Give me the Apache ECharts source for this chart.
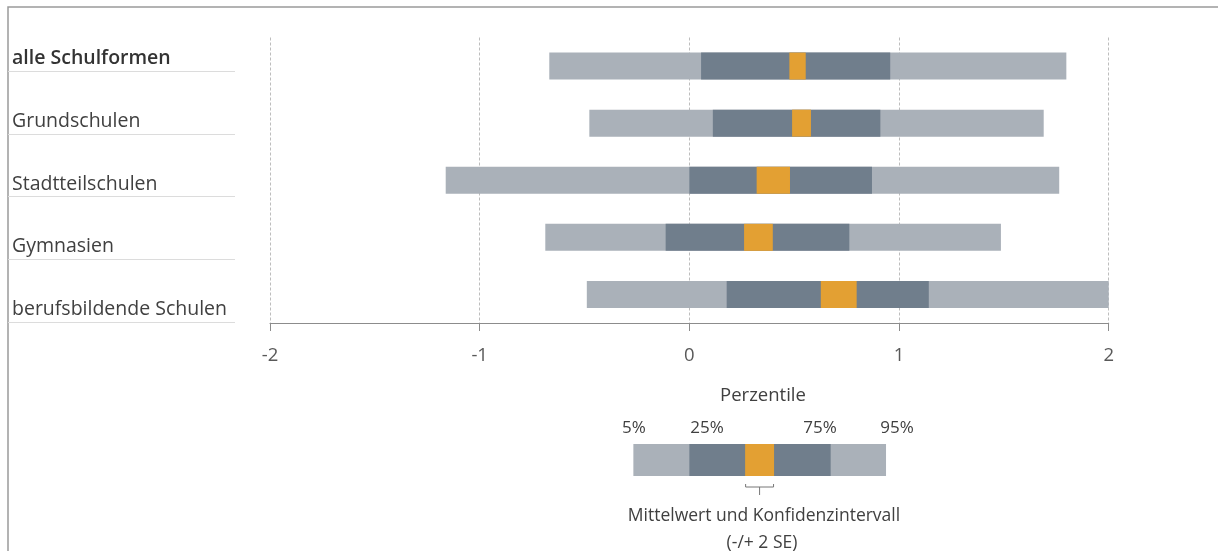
<!DOCTYPE html>
<html>
<head>
<meta charset="utf-8">
<script src="https://cdn.jsdelivr.net/npm/echarts@6/dist/echarts.min.js"></script>
<style>
html,body{margin:0;padding:0;background:#fff;}
#c{width:1218px;height:551px;}
</style>
</head>
<body>
<div id="c"></div>
<script>
// ---- data ----
const categories = ['alle Schulformen', 'Grundschulen', 'Stadtteilschulen', 'Gymnasien', 'berufsbildende Schulen'];
const p5     = [-0.668, -0.477, -1.162, -0.687, -0.489];
const p25    = [ 0.056,  0.112,  0.000, -0.113,  0.178];
const ciLow  = [ 0.477,  0.490,  0.321,  0.261,  0.627];
const ciHigh = [ 0.555,  0.580,  0.480,  0.398,  0.798];
const p75    = [ 0.958,  0.911,  0.871,  0.763,  1.142];
const p95    = [ 1.798,  1.690,  1.764,  1.486,  2.000];
const xMin = -2, xMax = 2, xInterval = 1;
// legend example bar: [p5, p25, ciLow, ciHigh, p75, p95]
const legendBar = [-0.267, 0.000, 0.266, 0.404, 0.674, 0.938];
const legendTitle = 'Perzentile';
const legendPercents = ['5%', '25%', '75%', '95%'];
const legendNote1 = 'Mittelwert und Konfidenzintervall';
const legendNote2 = '(-/+ 2 SE)';

// ---- styling ----
const FONT = '"Open Sans", "Noto Sans", sans-serif';
const C_LIGHT = '#AAB1B9';
const C_DARK = '#707E8C';
const C_ORANGE = '#E3A033';
const C_TEXT = '#404040';

const rows = categories.map((c, i) => [i, p5[i], p25[i], ciLow[i], ciHigh[i], p75[i], p95[i]]);

function boxShapes(api, hRatio) {
  const idx = api.value(0);
  const v = [1,2,3,4,5,6].map(k => api.value(k));
  const cy = api.coord([0, idx])[1];
  const h = api.size([0, 1])[1] * hRatio;
  const px = v.map(x => api.coord([x, idx])[0]);
  const rect = (a, b, fill) => ({
    type: 'rect',
    shape: { x: a, y: cy - h / 2, width: b - a, height: h },
    style: { fill: fill }
  });
  return { px, cy, h, children: [
    rect(px[0], px[5], C_LIGHT),
    rect(px[1], px[4], C_DARK),
    rect(px[2], px[3], C_ORANGE)
  ]};
}

const chart = echarts.init(document.getElementById('c'), null, { renderer: 'canvas' });

const option = {
  animation: false,
  backgroundColor: '#ffffff',
  grid: [
    { left: 270, right: 109.3, top: 37.5, height: 285.5 },
    { left: 8, width: 227, top: 8.25, height: 313.75 },
    { left: 270, right: 109.3, top: 444, height: 32 }
  ],
  xAxis: [
    {
      gridIndex: 0, type: 'value', min: xMin, max: xMax, interval: xInterval,
      axisLine: { show: true, onZero: false, lineStyle: { color: '#8C8C8C', width: 1 } },
      axisTick: { show: true, length: 8, lineStyle: { color: '#8C8C8C' } },
      axisLabel: { fontSize: 18.5, color: '#595959', fontFamily: FONT, margin: 23 },
      splitLine: { show: true, lineStyle: { type: [3, 2], color: '#BDBDBD', width: 1 } }
    },
    { gridIndex: 1, type: 'value', show: false, min: 0, max: 1 },
    { gridIndex: 2, type: 'value', show: false, min: xMin, max: xMax }
  ],
  yAxis: [
    {
      gridIndex: 0, type: 'category', data: categories, inverse: true,
      axisLine: { show: false }, axisTick: { show: false }, axisLabel: { show: false },
      splitLine: { show: false }
    },
    {
      gridIndex: 1, type: 'category', data: categories, inverse: true,
      axisLine: { show: false }, axisTick: { show: false },
      axisLabel: {
        inside: true, margin: 4, verticalAlign: 'top', padding: [9, 0, 0, 0],
        fontSize: 19.5, color: C_TEXT, fontFamily: FONT,
        formatter: (v, i) => i === 0 ? '{b|' + v + '}' : '{n|' + v + '}',
        rich: {
          b: { fontSize: 19.5, color: '#333333', fontFamily: FONT, fontWeight: 600 },
          n: { fontSize: 19.5, color: C_TEXT, fontFamily: FONT }
        }
      },
      splitLine: { show: true, showMinLine: false, lineStyle: { color: '#DCDCDC', width: 1 } }
    },
    {
      gridIndex: 2, type: 'category', data: [''], show: false
    }
  ],
  series: [
    {
      type: 'custom', xAxisIndex: 0, yAxisIndex: 0,
      data: rows,
      encode: { x: [1, 2, 3, 4, 5, 6], y: 0 },
      renderItem: (params, api) => {
        const s = boxShapes(api, 0.473);
        return { type: 'group', children: s.children };
      }
    },
    {
      type: 'custom', xAxisIndex: 2, yAxisIndex: 2,
      data: [[0].concat(legendBar)],
      encode: { x: [1, 2, 3, 4, 5, 6], y: 0 },
      renderItem: (params, api) => {
        const s = boxShapes(api, 1);
        const bottom = s.cy + s.h / 2;
        const a = s.px[2], b = s.px[3], m = (a + b) / 2;
        const by = bottom + 11;
        s.children.push({
          type: 'polyline',
          shape: { points: [[a + 0.5, by - 3], [a + 0.5, by], [b - 0.5, by], [b - 0.5, by - 3]] },
          style: { stroke: '#777777', lineWidth: 1, fill: null }
        });
        s.children.push({
          type: 'line',
          shape: { x1: m, y1: by, x2: m, y2: by + 8 },
          style: { stroke: '#777777', lineWidth: 1 }
        });
        return { type: 'group', children: s.children };
      }
    }
  ],
  graphic: [
    {
      type: 'polyline', silent: true,
      shape: { points: [[8, 551], [8, 7], [1218, 7]] },
      style: { stroke: '#9A9A9A', lineWidth: 1.5, fill: null }
    },
    { type: 'text', style: { text: legendTitle, x: 763, y: 396, textAlign: 'center', textVerticalAlign: 'middle', fontSize: 18.5, fill: C_TEXT, fontFamily: FONT } },
    { type: 'text', style: { text: legendPercents[0], x: 634, y: 428, textAlign: 'center', textVerticalAlign: 'middle', fontSize: 17, fill: C_TEXT, fontFamily: FONT } },
    { type: 'text', style: { text: legendPercents[1], x: 707, y: 428, textAlign: 'center', textVerticalAlign: 'middle', fontSize: 17, fill: C_TEXT, fontFamily: FONT } },
    { type: 'text', style: { text: legendPercents[2], x: 820, y: 428, textAlign: 'center', textVerticalAlign: 'middle', fontSize: 17, fill: C_TEXT, fontFamily: FONT } },
    { type: 'text', style: { text: legendPercents[3], x: 897, y: 428, textAlign: 'center', textVerticalAlign: 'middle', fontSize: 17, fill: C_TEXT, fontFamily: FONT } },
    { type: 'text', style: { text: legendNote1, x: 764, y: 516, textAlign: 'center', textVerticalAlign: 'middle', fontSize: 17.5, fill: C_TEXT, fontFamily: FONT } },
    { type: 'text', style: { text: legendNote2, x: 762, y: 543, textAlign: 'center', textVerticalAlign: 'middle', fontSize: 17.5, fill: C_TEXT, fontFamily: FONT } }
  ]
};
chart.setOption(option);
</script>
</body>
</html>
